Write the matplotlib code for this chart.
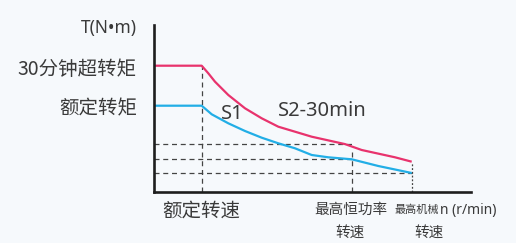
import matplotlib.pyplot as plt

plt.rcParams['font.family'] = ['Noto Sans CJK SC', 'DejaVu Sans']
latin = ['Noto Sans', 'DejaVu Sans']

# speed (x) and torque (y), arbitrary units
rated_speed = 47.7
max_power_speed = 197.7
max_speed = 257.7

s2_speed = [0, 47.7, 54.3, 61, 74.3, 91, 107.7, 124.3, 141, 157.7, 191, 207.7, 241, 257.7]
s2_torque = [126, 126, 118.4, 110, 96.7, 83.4, 73.4, 65, 60, 55, 47.6, 41.7, 34.4, 30]

s1_speed = [0, 47.7, 57.7, 74.3, 91, 107.7, 124.3, 141, 157.7, 174.3, 197.7, 224.3, 257.7]
s1_torque = [86, 86, 77.4, 68.4, 60.7, 54, 48.4, 43.4, 36.7, 34.4, 32.4, 25.7, 18.7]

level_hi = 47.6
level_mid = 32.4
level_lo = 18.7

bg = '#f6f9fc'
txt = '#3a3a3a'
red = '#e8336d'
blue = '#22aee6'

fig = plt.figure(figsize=(5.16, 2.43), dpi=100, facecolor=bg)
ax = fig.add_axes([154 / 516, 51.3 / 243, 317 / 516, 166.7 / 243])
ax.set_facecolor(bg)
ax.set_xlim(0, 317)
ax.set_ylim(0, 166.7)

for s in ['top', 'right']:
    ax.spines[s].set_visible(False)
for s in ['left', 'bottom']:
    ax.spines[s].set_linewidth(1.9)
    ax.spines[s].set_color('#1e1e1e')
ax.set_xticks([])
ax.set_yticks([])

# helper lines
dash = dict(color='#444444', linewidth=0.9, dashes=(4, 3))
ax.plot([0, max_power_speed], [level_hi, level_hi], **dash)
ax.plot([0, max_power_speed], [level_mid, level_mid], **dash)
ax.plot([0, max_speed], [level_lo, level_lo], **dash)
ax.plot([rated_speed, rated_speed], [0, s2_torque[1]], **dash)
ax.plot([max_power_speed, max_power_speed], [0, 40], **dash)
ax.plot([max_speed, max_speed], [0, s2_torque[-1]], color='#444444', linewidth=0.9, dashes=(1.5, 1.5))

ax.plot(s2_speed, s2_torque, color=red, linewidth=1.6, solid_capstyle='butt')
ax.plot(s1_speed, s1_torque, color=blue, linewidth=1.6, solid_capstyle='butt')

ax.text(78, 77.5, 'S1', fontsize=14.5, family=latin, color=txt, ha='center', va='center')
ax.text(168, 80.5, 'S2-30min', fontsize=14.5, family=latin, color=txt, ha='center', va='center')

# y labels
ax.text(-17, 163.7, 'T(N•m)', fontsize=12.5, family=latin, color=txt, ha='right', va='center', clip_on=False)
ax.text(-17, 122, '30分钟超转矩', fontsize=14, color=txt, ha='right', va='center', clip_on=False)
ax.text(-17, 83, '额定转矩', fontsize=14, color=txt, ha='right', va='center', clip_on=False)

# x labels
ax.text(rated_speed, -19.5, '额定转速', fontsize=14, color=txt, ha='center', va='center', clip_on=False)
ax.text(196.5, -18.5, '最高恒功率', fontsize=10.5, color=txt, ha='center', va='center', clip_on=False)
ax.text(196, -41, '转速', fontsize=10.5, color=txt, ha='center', va='center', clip_on=False)
ax.text(262.5, -18.5, '最高机械', fontsize=8, color=txt, ha='center', va='center', clip_on=False)
ax.text(275, -41, '转速', fontsize=10.5, color=txt, ha='center', va='center', clip_on=False)
ax.text(285.5, -18.5, 'n (r/min)', fontsize=10, family=latin, color=txt, ha='left', va='center', clip_on=False)

fig.savefig('out.png', dpi=100, facecolor=bg)
